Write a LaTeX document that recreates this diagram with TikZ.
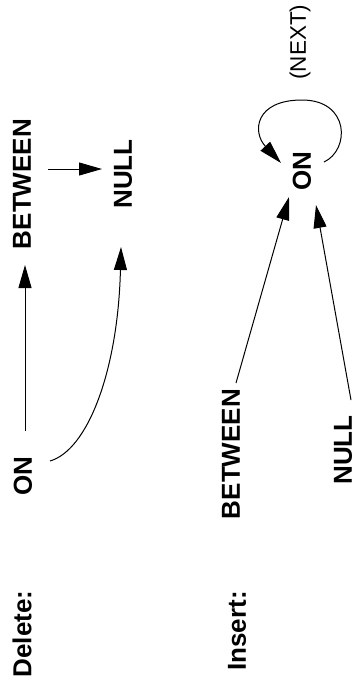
\documentclass[tikz,border=0pt]{standalone}
\usepackage{fontspec}
\setmainfont{Liberation Sans}
\usetikzlibrary{arrows.meta,calc}
\begin{document}
\begin{tikzpicture}[x=1pt,y=-1pt,
  lbl/.style={rotate=90,inner sep=0pt,font=\fontsize{26}{30}\selectfont\bfseries},
  plain/.style={rotate=90,inner sep=0pt,font=\fontsize{22.5}{27}\selectfont},
  arr/.style={-{Triangle[length=23pt,width=13pt]},line width=1pt}]
\useasboundingbox (0,0) rectangle (358,681);
% Delete column
\node[lbl] (del) at (22,634) {Delete:};
\node[lbl] (on1) at (23,476) {ON};
\node[lbl] (btw1) at (22,184) {BETWEEN};
\node[lbl] (null1) at (123,174) {NULL};
\draw[arr] ($(on1)+(2,-45)$) -- ($(btw1)+(3,81)$);
\draw[arr] ($(btw1)+(26,-15)$) -- ($(null1)+(-21,-5)$);
\draw[arr] ($(on1)+(27,-15)$) .. controls (88,450) and (118,370) .. ($(null1)+(-2,73)$);
% Insert column
\node[lbl] (ins) at (237,631) {Insert:};
\node[lbl] (btw2) at (231,454) {BETWEEN};
\node[lbl] (null2) at (343,450) {NULL};
\node[lbl] (on2) at (302,171) {ON};
\node[plain] (next) at (300,42) {(NEXT)};
\draw[arr] ($(btw2)+(5,-71)$) -- ($(on2)+(-13,26)$);
\draw[arr] ($(null2)+(8,-50)$) -- ($(on2)+(14,34)$);
\draw[arr] ($(on2)+(22,-9)$) .. controls (350,150) and (350,100) .. (302,100)
  .. controls (255,100) and (252,132) .. ($(on2)+(-21,-8)$);
\end{tikzpicture}
\end{document}
